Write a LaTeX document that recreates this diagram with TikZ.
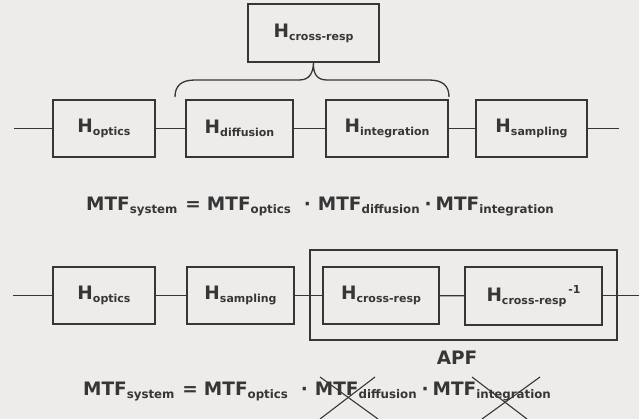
\documentclass[tikz,border=0pt]{standalone}
\usepackage{fontspec}
\setmainfont{DejaVu Sans}
\definecolor{paper}{HTML}{EEECEA}
\definecolor{ink}{HTML}{363636}
\newcommand\mainf{\bfseries\fontsize{18.5}{21}\selectfont}
\newcommand\subf{\bfseries\fontsize{11}{13}\selectfont}
\newcommand\esubf{\bfseries\fontsize{11.8}{13}\selectfont}
\newcommand\sbs[1]{\raisebox{-3pt}{\subf #1}}
\newcommand\Hx[1]{{\mainf H}\sbs{#1}}
\newcommand\Mx[1]{{\mainf MTF}\raisebox{-3pt}{\esubf #1}}
\newcommand\mdot{{\mainf ·}}
\newcommand\eqn{\Mx{system}\hspace{8pt}{\mainf =}\hspace{6pt}\Mx{optics}\hspace{13pt}\mdot\hspace{7pt}\Mx{diffusion}\hspace{5pt}\mdot\hspace{4pt}\Mx{integration}}
\begin{document}
\begin{tikzpicture}[x=1pt,y=-1pt,
  every node/.style={text=ink},
  blk/.style={draw=ink, line width=1.7pt, inner sep=0pt, minimum height=57pt},
  wire/.style={draw=ink, line width=1.3pt},
  cross/.style={draw=ink, line width=1.1pt}]
\fill[paper] (0,0) rectangle (639,419);
\useasboundingbox (0,0) rectangle (639,419);

% ---- top diagram ----
\node[blk, minimum width=131pt, minimum height=58pt] (cr1) at (313.5,33) {\Hx{cross-resp}};
\node[blk, minimum width=102pt] (opt1) at (104,128.5) {\Hx{optics}};
\node[blk, minimum width=107pt] (dif) at (239.5,128.5) {\Hx{diffusion}};
\node[blk, minimum width=122pt] (int) at (387,128.5) {\Hx{integration}};
\node[blk, minimum width=111pt] (sam1) at (531.5,128.5) {\Hx{sampling}};
\coordinate (in1) at (14,128.5);
\coordinate (out1) at (619,128.5);
\draw[wire] (in1) -- (opt1);
\draw[wire] (opt1) -- (dif);
\draw[wire] (dif) -- (int);
\draw[wire] (int) -- (sam1);
\draw[wire] (sam1) -- (out1);

% brace
\coordinate (bl) at (175,97);
\coordinate (br) at (449,97);
\draw[ink, line width=1.3pt] (bl) .. controls (175,86) and (181,80) .. (195,80)
  -- (299,80) .. controls (309,80) and (313,74) .. (cr1.south)
  .. controls (313,74) and (317,80) .. (327,80)
  -- (429,80) .. controls (443,80) and (449,86) .. (br);

\node[anchor=center] (eq1) at (320,207) {\eqn};

% ---- bottom diagram ----
\node[draw=ink, line width=1.7pt, inner sep=0pt, minimum width=307pt, minimum height=90pt] (apf) at (463.5,295) {};
\node[blk, minimum width=102pt] (opt2) at (104,295.5) {\Hx{optics}};
\node[blk, minimum width=107pt] (sam2) at (240.5,295.5) {\Hx{sampling}};
\node[blk, minimum width=116pt] (cr2) at (381,295.5) {\Hx{cross-resp}};
\node[blk, minimum width=137pt, minimum height=58pt] (inv) at (533.5,296) {\Hx{cross-resp}\raisebox{8pt}{\subf\,-1}};
\coordinate (in2) at (13,295.5);
\coordinate (out2) at (639,295.5);
\draw[wire] (in2) -- (opt2);
\draw[wire] (opt2) -- (sam2);
\draw[wire] (sam2) -- (cr2);
\draw[wire] (cr2) -- (inv);
\draw[wire] (inv.east |- out2) -- (out2);
\node (apflbl) at (457,358) {\mainf APF};

\node[anchor=center] (eq2) at (317,392) {\eqn};

% crosses
\draw[cross] (320,377) -- (378,419);
\draw[cross] (375,377) -- (320,419);
\draw[cross] (472,377) -- (527,419);
\draw[cross] (540,377) -- (482,419);
\end{tikzpicture}
\end{document}
